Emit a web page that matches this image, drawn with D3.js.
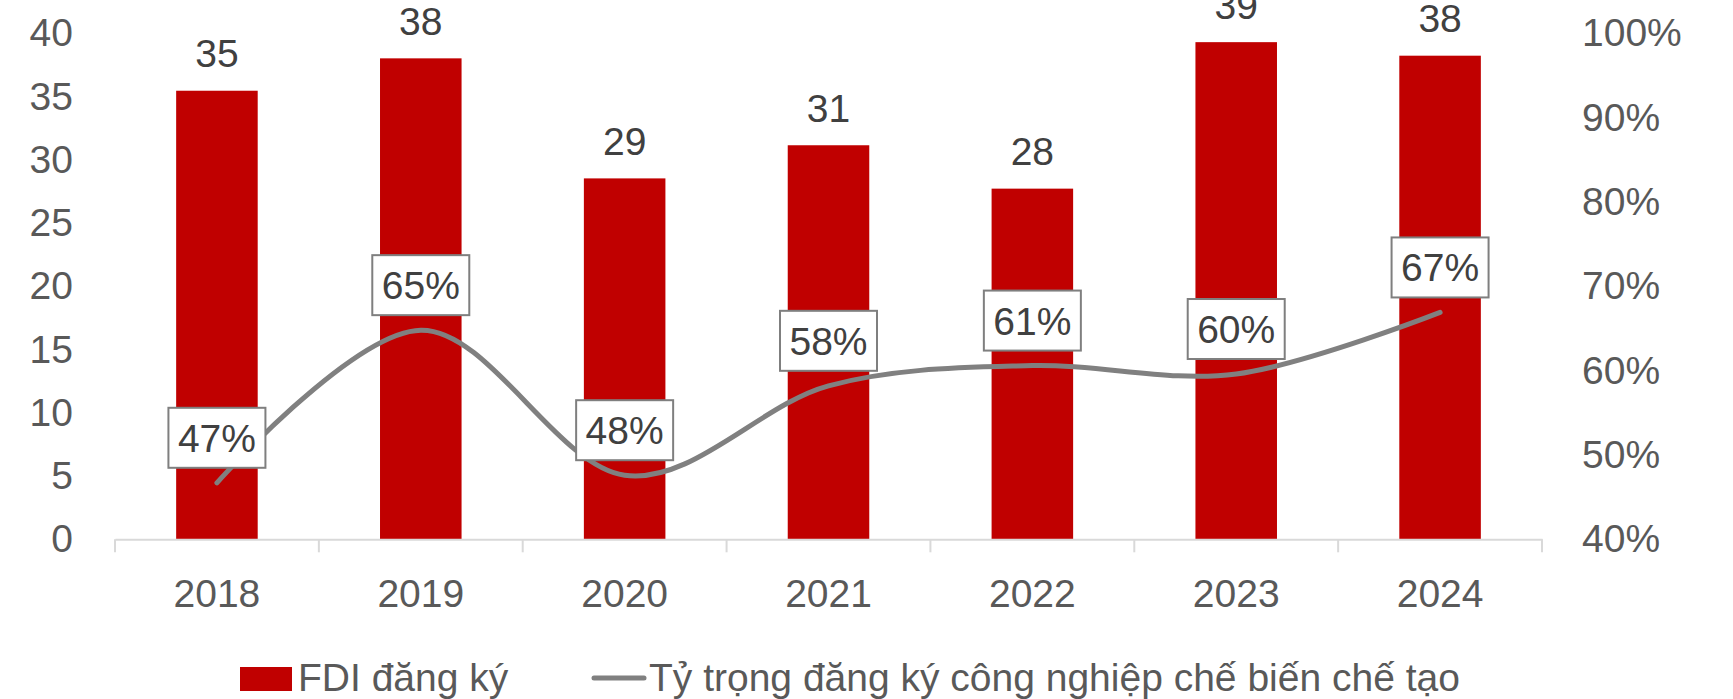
<!DOCTYPE html>
<html>
<head>
<meta charset="utf-8">
<script src="https://cdn.jsdelivr.net/npm/d3@7"></script>
<style>
    body { margin: 0; background: #fff; }
    #chart-area { width: 1733px; height: 699px; }
    text { font-family: "Liberation Sans", Arial, sans-serif; }
</style>
</head>
<body>
<div id="chart-area"></div>
<script>

// data
let years = ["2018", "2019", "2020", "2021", "2022", "2023", "2024"];
let fdiValues = [35.46, 38.02, 28.53, 31.15, 27.72, 39.3, 38.23];
let shareValues = [0.467, 0.648, 0.476, 0.582, 0.606, 0.596, 0.669];
let leftTicks = [0, 5, 10, 15, 20, 25, 30, 35, 40];
let rightTicks = [0.4, 0.5, 0.6, 0.7, 0.8, 0.9, 1.0];
let legendLabels = ["FDI đăng ký", "Tỷ trọng đăng ký công nghiệp chế biến chế tạo"];


/* * * * * * * * * * * * * *
*      class FdiChart        *
* * * * * * * * * * * * * */

class FdiChart {

    constructor(parentElement) {
        this.parentElement = parentElement;
        this.initVis();
    }

    initVis() {
        let vis = this;

        vis.width = 1733;
        vis.height = 699;
        vis.plot = {left: 115, right: 1542, top: 33.3, bottom: 539.3};

        vis.svg = d3.select("#" + vis.parentElement).append("svg")
            .attr("width", vis.width)
            .attr("height", vis.height);

        // scales
        vis.x = d3.scaleBand()
            .domain(years)
            .range([vis.plot.left, vis.plot.right])
            .padding(0);

        vis.y = d3.scaleLinear()
            .domain([0, 40])
            .range([vis.plot.bottom, vis.plot.top]);

        vis.y2 = d3.scaleLinear()
            .domain([0.4, 1.0])
            .range([vis.plot.bottom, vis.plot.top]);

        vis.barWidth = vis.x.bandwidth() * 0.4;

        vis.updateVis();
    }

    updateVis() {
        let vis = this;

        // left axis
        let yAxis = d3.axisLeft(vis.y)
            .tickValues(leftTicks)
            .tickSize(0)
            .tickPadding(42);

        vis.svg.append("g")
            .attr("class", "y-axis")
            .attr("transform", `translate(${vis.plot.left}, 0)`)
            .call(yAxis);

        // right axis
        let yAxis2 = d3.axisRight(vis.y2)
            .tickValues(rightTicks)
            .tickFormat(d3.format(".0%"))
            .tickSize(0)
            .tickPadding(40);

        vis.svg.append("g")
            .attr("class", "y-axis2")
            .attr("transform", `translate(${vis.plot.right}, 0)`)
            .call(yAxis2);

        vis.svg.selectAll(".y-axis .domain, .y-axis2 .domain").remove();
        vis.svg.selectAll(".y-axis text, .y-axis2 text")
            .attr("fill", "#595959")
            .attr("font-size", "39px");

        // bars
        vis.svg.selectAll(".bar")
            .data(years)
            .join("rect")
            .attr("class", "bar")
            .attr("x", (d, i) => vis.x(d) + (vis.x.bandwidth() - vis.barWidth) / 2)
            .attr("y", (d, i) => vis.y(fdiValues[i]))
            .attr("width", vis.barWidth)
            .attr("height", (d, i) => vis.y(0) - vis.y(fdiValues[i]))
            .attr("fill", "#C00000");

        // bar labels
        vis.svg.selectAll(".bar-label")
            .data(years)
            .join("text")
            .attr("class", "bar-label")
            .attr("x", d => vis.x(d) + vis.x.bandwidth() / 2)
            .attr("y", (d, i) => vis.y(fdiValues[i]) - 23.5)
            .attr("text-anchor", "middle")
            .attr("font-size", "39px")
            .attr("fill", "#404040")
            .text((d, i) => d3.format(".0f")(fdiValues[i]));

        // x axis
        let xAxis = d3.axisBottom(vis.x)
            .tickSize(0)
            .tickPadding(40);

        let xAxisGroup = vis.svg.append("g")
            .attr("class", "x-axis")
            .attr("transform", `translate(0, ${vis.plot.bottom})`)
            .call(xAxis);

        xAxisGroup.select(".domain")
            .attr("stroke", "#D9D9D9")
            .attr("stroke-width", 2);
        xAxisGroup.selectAll("text")
            .attr("fill", "#595959")
            .attr("font-size", "39px");

        // tick marks between categories
        let boundaries = years.map(d => vis.x(d)).concat([vis.plot.right]);
        xAxisGroup.selectAll(".cat-tick")
            .data(boundaries)
            .join("line")
            .attr("class", "cat-tick")
            .attr("x1", d => d)
            .attr("x2", d => d)
            .attr("y1", 0)
            .attr("y2", 13)
            .attr("stroke", "#D9D9D9")
            .attr("stroke-width", 2);

        // share line
        let line = d3.line()
            .x((d, i) => vis.x(years[i]) + vis.x.bandwidth() / 2)
            .y(d => vis.y2(d))
            .curve(d3.curveCatmullRom.alpha(0));

        vis.svg.append("path")
            .datum(shareValues)
            .attr("class", "share-line")
            .attr("d", line)
            .attr("fill", "none")
            .attr("stroke", "#808080")
            .attr("stroke-width", 5)
            .attr("stroke-linecap", "round");

        // boxed labels for the line
        let boxW = 97, boxH = 60, boxGap = 15;

        let boxes = vis.svg.selectAll(".share-label")
            .data(shareValues)
            .join("g")
            .attr("class", "share-label")
            .attr("transform", (d, i) => `translate(${vis.x(years[i]) + vis.x.bandwidth() / 2}, ${vis.y2(d) - boxGap - boxH / 2})`);

        boxes.append("rect")
            .attr("x", -boxW / 2)
            .attr("y", -boxH / 2)
            .attr("width", boxW)
            .attr("height", boxH)
            .attr("fill", "#fff")
            .attr("stroke", "#7F7F7F")
            .attr("stroke-width", 2);

        boxes.append("text")
            .attr("text-anchor", "middle")
            .attr("dy", "0.36em")
            .attr("font-size", "39px")
            .attr("fill", "#404040")
            .text(d => d3.format(".0%")(d));

        // legend
        let legend = vis.svg.append("g").attr("class", "legend");

        legend.append("rect")
            .attr("x", 240)
            .attr("y", 667)
            .attr("width", 52)
            .attr("height", 24)
            .attr("fill", "#C00000");

        legend.append("text")
            .attr("x", 298)
            .attr("y", 690.5)
            .attr("font-size", "39px")
            .attr("fill", "#595959")
            .text(legendLabels[0]);

        legend.append("line")
            .attr("x1", 594)
            .attr("x2", 644)
            .attr("y1", 678)
            .attr("y2", 678)
            .attr("stroke", "#808080")
            .attr("stroke-width", 5)
            .attr("stroke-linecap", "round");

        legend.append("text")
            .attr("x", 649)
            .attr("y", 690.5)
            .attr("font-size", "39px")
            .attr("fill", "#595959")
            .text(legendLabels[1]);
    }
}

let fdiChart = new FdiChart("chart-area");

</script>
</body>
</html>
